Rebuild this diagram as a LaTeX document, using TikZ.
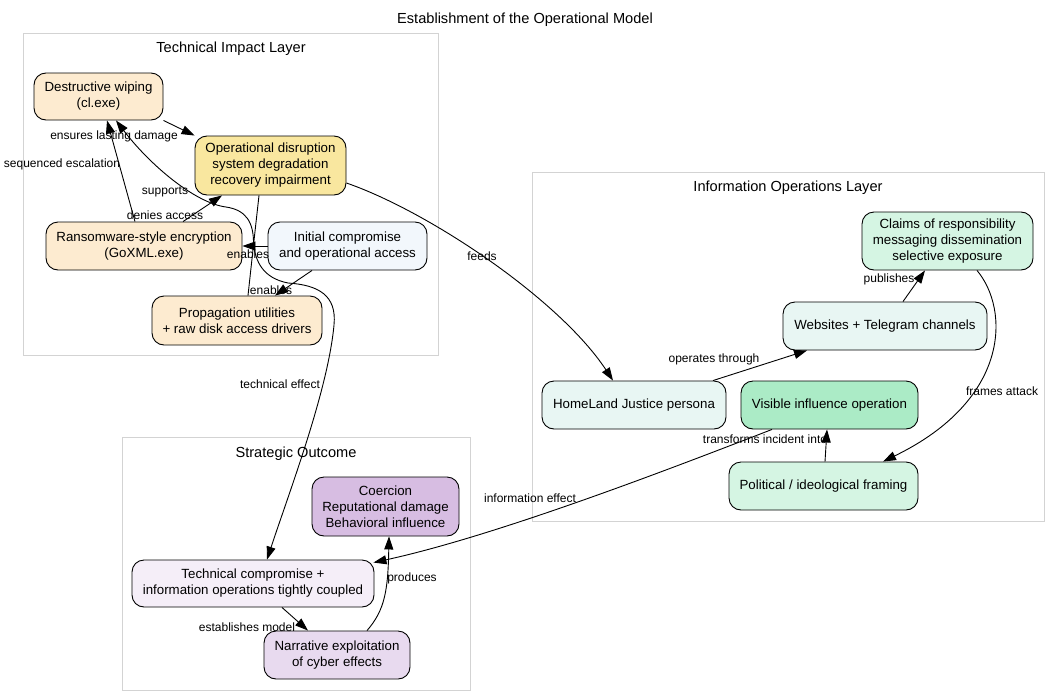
\documentclass[tikz,border=0pt]{standalone}
\usepackage{fontspec}
\setmainfont{Liberation Sans}
\usetikzlibrary{arrows.meta}
\definecolor{fillorange}{HTML}{FDEBD0}
\definecolor{fillyellow}{HTML}{F9E79F}
\definecolor{fillblue}{HTML}{F2F7FC}
\definecolor{fillmint}{HTML}{D5F5E3}
\definecolor{fillaqua}{HTML}{E8F6F3}
\definecolor{fillgreen}{HTML}{ABEBC6}
\definecolor{fillviolet}{HTML}{D7BDE2}
\definecolor{filllav}{HTML}{F5EEF8}
\definecolor{filllilac}{HTML}{E8DAEF}
\definecolor{clustergray}{HTML}{D3D3D3}
\begin{document}
\begin{tikzpicture}[x=1pt,y=-1pt,
  box/.style={draw=black,line width=0.9pt,rounded corners=12pt,align=center,inner sep=0pt,
    font={\fontsize{13.3pt}{16pt}\selectfont}},
  cluster/.style={draw=clustergray,line width=0.9pt,inner sep=0pt},
  clabel/.style={font={\fontsize{14.6pt}{17pt}\selectfont},inner sep=0pt,yshift=-1.5pt},
  conn/.style={-{Triangle[length=13pt,width=9pt]},line width=0.9pt},
  elabel/.style={font={\fontsize{12pt}{14pt}\selectfont},inner sep=0pt,yshift=-1pt}
]
\useasboundingbox (0,0) rectangle (1049,696);

\node[clabel] (title) at (525,18) {Establishment of the Operational Model};

% clusters
\node[cluster,minimum width=415pt,minimum height=322pt] (ctech) at (230.5,194) {};
\node[clabel] (ctechlbl) at (231,47) {Technical Impact Layer};
\node[cluster,minimum width=512pt,minimum height=349pt] (cinfo) at (788,346.5) {};
\node[clabel] (cinfolbl) at (788,186) {Information Operations Layer};
\node[cluster,minimum width=348pt,minimum height=253pt] (cstrat) at (296,563.5) {};
\node[clabel] (cstratlbl) at (296,452) {Strategic Outcome};

% technical nodes
\node[box,fill=fillorange,minimum width=129pt,minimum height=47pt] (dw) at (98.5,96.5) {Destructive wiping\\(cl.exe)};
\node[box,fill=fillyellow,minimum width=151pt,minimum height=59pt] (od) at (270.5,165.5) {Operational disruption\\system degradation\\recovery impairment};
\node[box,fill=fillorange,minimum width=196pt,minimum height=48pt] (rw) at (144,246) {Ransomware-style encryption\\(GoXML.exe)};
\node[box,fill=fillblue,minimum width=159pt,minimum height=48pt] (ic) at (347.5,246) {Initial compromise\\and operational access};
\node[box,fill=fillorange,minimum width=170pt,minimum height=49pt] (prop) at (237,320.5) {Propagation utilities\\+ raw disk access drivers};

% information nodes
\node[box,fill=fillmint,minimum width=171pt,minimum height=58pt] (claims) at (947.5,241) {Claims of responsibility\\messaging dissemination\\selective exposure};
\node[box,fill=fillaqua,minimum width=204pt,minimum height=48pt] (web) at (885,326) {Websites + Telegram channels};
\node[box,fill=fillaqua,minimum width=184pt,minimum height=48pt] (hj) at (634,405) {HomeLand Justice persona};
\node[box,fill=fillgreen,minimum width=177pt,minimum height=48pt] (vis) at (829.5,405) {Visible influence operation};
\node[box,fill=fillmint,minimum width=189pt,minimum height=48pt] (pol) at (823.5,486) {Political / ideological framing};

% strategic nodes
\node[box,fill=fillviolet,minimum width=147pt,minimum height=59pt] (coer) at (385.5,506.5) {Coercion\\Reputational damage\\Behavioral influence};
\node[box,fill=filllav,minimum width=242pt,minimum height=47pt] (tc) at (253,583.5) {Technical compromise +\\information operations tightly coupled};
\node[box,fill=filllilac,minimum width=146pt,minimum height=48pt] (nar) at (337,655) {Narrative exploitation\\of cyber effects};

% connectors
\draw[conn] (dw.south east) -- (od.north west);
\draw[conn] ([xshift=-9pt]rw.north) -- ([xshift=8.5pt]dw.south);
\draw[conn] ([xshift=39pt]rw.north) -- ([xshift=-48.5pt]od.south);
\draw[conn] (ic.west) -- (rw.east);
\draw[conn] ([xshift=-35.5pt]ic.south) -- ([xshift=38pt]prop.north);
\draw[conn] ([xshift=11pt]prop.north) -- (253.5,245) .. controls (254,222) and (246,210) .. (226,207)
   .. controls (195,203) and (150,165) .. ([xshift=17.5pt]dw.south);
\draw[conn] ([xshift=-11.5pt]od.south) -- (253.5,245) .. controls (256,262) and (263,278) .. (288,283)
   .. controls (318,285) and (337,295) .. (334,325) .. controls (328,390) and (290,490) .. ([xshift=14pt]tc.north);
\draw[conn] ([yshift=-17.5pt]od.east) .. controls (430,212) and (560,300) .. ([xshift=-21pt]hj.north);
\draw[conn] ([xshift=79pt]hj.north) -- ([xshift=-78pt]web.south);
\draw[conn] ([xshift=18pt]web.north) -- ([xshift=-22.5pt]claims.south);
\draw[conn] ([xshift=29.5pt]claims.south) .. controls (1010,310) and (1010,400) .. ([xshift=59.5pt]pol.north);
\draw[conn] ([xshift=1.5pt]pol.north) -- ([xshift=-2.5pt]vis.south);
\draw[conn] ([xshift=-57.5pt]vis.south) .. controls (680,465) and (500,535) .. ([xshift=-1pt,yshift=-3pt]tc.north east);
\draw[conn] ([xshift=29pt]tc.south) -- ([xshift=-29pt]nar.north);
\draw[conn] ([xshift=30pt]nar.north) .. controls (385,610) and (388,590) .. ([xshift=3.5pt]coer.south);

% connector labels
\node[elabel] (l1) at (114,135) {ensures lasting damage};
\node[elabel] (l2) at (62,163) {sequenced escalation};
\node[elabel] (l3) at (165,191) {supports};
\node[elabel] (l4) at (165,214) {denies access};
\node[elabel] (l5) at (248,253) {enables};
\node[elabel] (l6) at (271,289) {enables};
\node[elabel] (l7) at (482,255) {feeds};
\node[elabel] (l8) at (714,358) {operates through};
\node[elabel] (l9) at (889,278) {publishes};
\node[elabel] (l10) at (1002,390) {frames attack};
\node[elabel] (l11) at (765,438) {transforms incident into};
\node[elabel] (l12) at (530,497) {information effect};
\node[elabel] (l13) at (280,383) {technical effect};
\node[elabel] (l14) at (247,626) {establishes model};
\node[elabel] (l15) at (412,577) {produces};
\end{tikzpicture}
\end{document}
